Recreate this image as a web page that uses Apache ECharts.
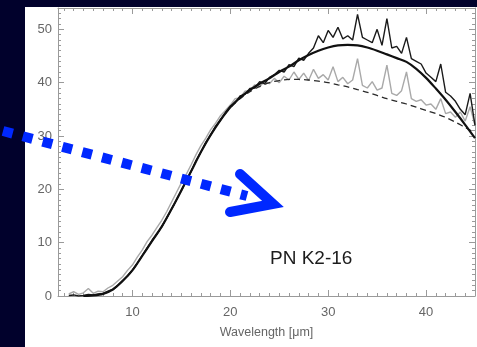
<!DOCTYPE html>
<html><head><meta charset="utf-8">
<script src="https://cdn.jsdelivr.net/npm/echarts@6/dist/echarts.min.js"></script>
<style>html,body{margin:0;padding:0;background:#01012c;}#c{width:477px;height:347px;}</style>
</head><body><div id="c"></div>
<script>
// Observed spectra (wavelength in µm, flux)
const obsWave = [3.5,4,4.5,5,5.5,6,6.5,7,7.5,8,8.5,9,9.5,10,10.5,11,11.5,12,12.5,13,13.5,14,14.5,15,15.5,16,16.5,17,17.5,18,18.5,19,19.5,20,20.5,21,21.5,22,22.5,23,23.5,24,24.5,25,25.5,26,26.5,27,27.5,28,28.5,29,29.5,30,30.5,31,31.5,32,32.5,33,33.5,34,34.5,35,35.5,36,36.5,37,37.5,38,38.5,39,39.5,40,40.5,41,41.5,42,42.5,43,43.5,44,44.5,45];
const obsBlack = [0.1,0.2,0,0.1,0.3,0.2,0.4,0.5,0.9,1.3,2.0,2.9,3.8,4.9,6.2,7.6,9.0,10.4,11.6,13.0,14.6,16.3,18.0,19.8,21.5,23.4,25.4,27.0,28.8,30.2,31.8,33.0,34.4,35.6,36.2,37.5,37.8,38.9,39.0,40.2,39.8,41.0,41.5,42.3,42.0,43.4,43.0,44.6,44.2,45.5,46.5,48.8,47.5,49.8,48.5,50.4,48.2,48.8,48.0,52.8,48.5,48.0,47.5,50.0,47.0,52.0,46.5,46.8,45.5,48.5,44.5,44.0,43.5,41.8,41.0,40.2,43.5,38.2,37.5,36.5,35.0,34.0,38.0,32.0];
const obsGrey = [0.4,0.8,0.3,0.6,1.4,0.5,0.9,0.8,1.5,2.0,2.8,3.6,4.8,5.8,7.3,8.6,10.2,11.4,12.8,14.2,15.8,17.6,19.4,21.2,22.8,24.6,26.5,28.2,29.6,31.2,32.4,33.8,34.8,35.8,37.0,37.2,38.4,38.6,39.6,39.2,40.3,39.8,40.8,40.0,41.2,40.5,42.0,40.6,41.8,40.4,42.5,40.8,41.5,40.5,43.0,40.2,41.0,39.8,40.5,44.5,39.5,39.0,40.2,38.6,39.0,43.3,38.0,37.6,38.5,42.0,37.0,36.5,36.8,35.8,36.0,35.0,37.0,34.2,34.5,33.5,34.5,32.8,35.5,32.0];
// Model curves
const modelWave = [5,6,7,8,9,10,11,12,13,14,15,16,17,18,19,20,21,22,23,24,25,26,27,28,29,30,31,32,33,34,35,36,37,38,39,40,41,42,43,44,45];
const modelSolid = [0,0.1,0.4,1.2,2.8,4.8,7.5,10.3,13.0,16.3,19.8,23.4,27.0,30.2,33.0,35.4,37.2,38.6,39.8,40.8,42.0,43.0,44.2,45.2,46.0,46.6,47.0,47.1,47.0,46.6,46.0,45.3,44.6,43.9,42.6,40.9,38.9,36.8,34.5,32.1,29.6];
const modelDashed = [0,0.1,0.4,1.2,2.8,4.8,7.5,10.3,13.0,16.3,19.8,23.4,27.0,30.2,33.0,35.3,37.0,38.3,39.3,40.0,40.4,40.6,40.6,40.5,40.3,40.0,39.6,39.2,38.7,38.2,37.6,37.0,36.5,36.0,35.4,34.8,34.2,33.5,32.6,31.6,30.6];
// Axes
const xMajor = [10,20,30,40];
const xMinor = [3,4,5,6,7,8,9,11,12,13,14,15,16,17,18,19,21,22,23,24,25,26,27,28,29,31,32,33,34,35,36,37,38,39,41,42,43,44];
const xMin = 2.4, xMax = 45;
const yMin = 0, yMax = 54, yStep = 10;
const xTitle = 'Wavelength [\u03bcm]';
const label = 'PN K2-16';

const pair = (xs, ys) => xs.map((x, i) => [x, ys[i]]);
const font = "'Liberation Sans', Arial, sans-serif";
const axisCol = '#9a9a9a';

function xAx(pos, ticks, len, showLabel, showLine) {
  return {
    type: 'value', position: pos, min: xMin, max: xMax,
    axisLine: {show: showLine, onZero: false, lineStyle: {color: axisCol, width: 1}},
    axisTick: {show: true, inside: true, length: len, customValues: ticks, lineStyle: {color: axisCol}},
    axisLabel: {show: showLabel, customValues: ticks, color: '#666', fontFamily: font, fontSize: 13, margin: 10},
    splitLine: {show: false},
    name: showLabel ? xTitle : '', nameLocation: 'middle', nameGap: 30,
    nameTextStyle: {color: '#666', fontFamily: font, fontSize: 12.5}
  };
}
function yAx(pos, showLabel) {
  return {
    type: 'value', position: pos, min: yMin, max: yMax, interval: yStep,
    axisLine: {show: true, lineStyle: {color: axisCol, width: 1}},
    axisTick: {show: true, inside: true, length: 6, lineStyle: {color: axisCol}},
    minorTick: {show: true, splitNumber: 10, length: 3, lineStyle: {color: axisCol}},
    axisLabel: {show: showLabel, color: '#666', fontFamily: font, fontSize: 13, margin: 6,
      formatter: v => (v % 10 === 0 && v <= 50) ? String(v) : ''},
    splitLine: {show: false}
  };
}

const chart = echarts.init(document.getElementById('c'));
chart.setOption({
  backgroundColor: '#01012c',
  animation: false,
  grid: {left: 58, right: 2, top: 8, bottom: 51},
  xAxis: [xAx('bottom', xMajor, 6, true, true), xAx('bottom', xMinor, 3, false, false),
          xAx('top', xMajor, 6, false, true), xAx('top', xMinor, 3, false, false)],
  yAxis: [yAx('left', true), yAx('right', false)],
  graphic: [
    {type: 'rect', z: -100, shape: {x: 25, y: 7, width: 452, height: 340}, style: {fill: '#ffffff'}},
    {type: 'text', z: 100, left: 270, top: 249, style: {text: label, font: '19px ' + font, fill: '#1c1c1c'}},
    {type: 'line', z: 100, shape: {x1: 3, y1: 131, x2: 247, y2: 196},
      style: {stroke: '#0028ff', lineWidth: 10, lineDash: [10, 10.5], lineCap: 'butt'}},
    {type: 'polyline', z: 100, shape: {points: [[240, 174], [273, 204], [230, 212]]},
      style: {stroke: '#0028ff', fill: null, lineWidth: 10, lineCap: 'round', lineJoin: 'miter'}}
  ],
  series: [
    {type: 'line', name: 'grey', data: pair(obsWave, obsGrey), showSymbol: false, z: 2,
      lineStyle: {color: '#a9a9a9', width: 1.4}},
    {type: 'line', name: 'black', data: pair(obsWave, obsBlack), showSymbol: false, z: 3,
      lineStyle: {color: '#1a1a1a', width: 1.4}},
    {type: 'line', name: 'dashed', data: pair(modelWave, modelDashed), showSymbol: false, smooth: 0.3, z: 4,
      lineStyle: {color: '#2a2a2a', width: 1.3, type: [6, 4]}},
    {type: 'line', name: 'model', data: pair(modelWave, modelSolid), showSymbol: false, smooth: 0.3, z: 5,
      lineStyle: {color: '#111111', width: 2.2}}
  ]
});
</script></body></html>
